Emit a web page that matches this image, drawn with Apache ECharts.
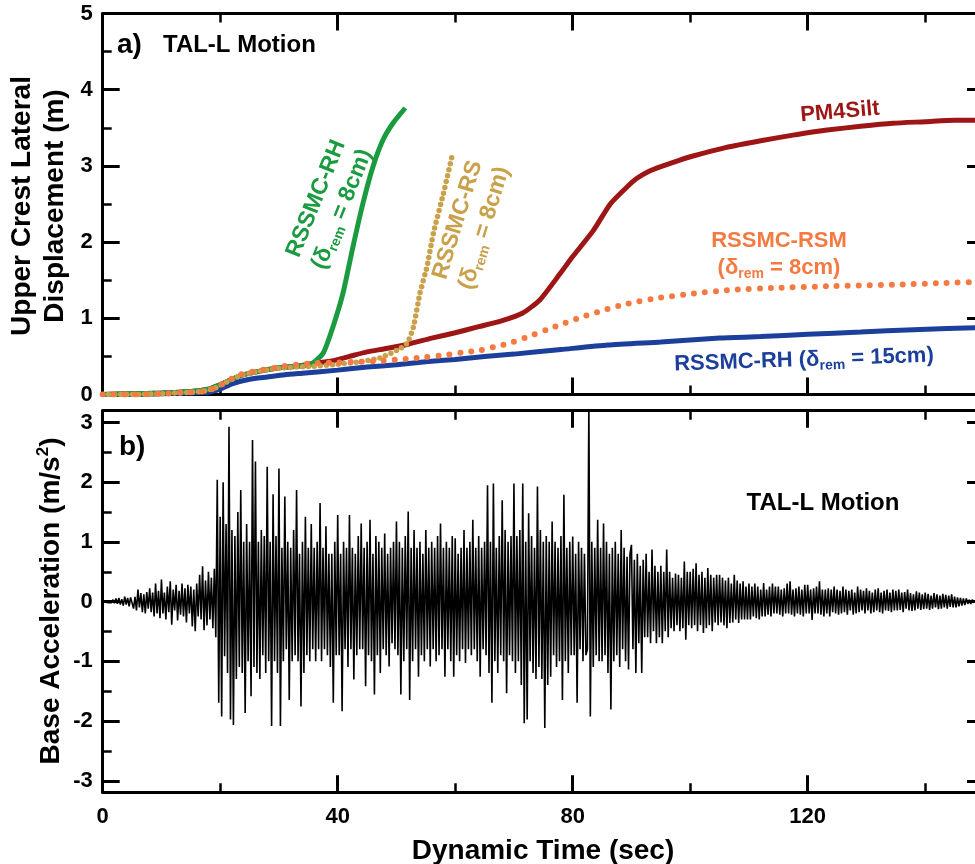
<!DOCTYPE html>
<html><head><meta charset="utf-8">
<script src="https://cdn.jsdelivr.net/npm/echarts@6/dist/echarts.min.js"></script>
<style>html,body{margin:0;padding:0;background:#fff}#c{width:975px;height:864px}</style>
</head><body><div id="c"></div>
<script>
const FONT = "'Liberation Sans', Arial, Helvetica, sans-serif";

// ---- Panel a) upper crest lateral displacement (m) vs dynamic time (s)
const tPM4Silt = [0,5,10,15,18,20,22,24,27,30,33,36,39,42,45,48,52,56,60,64,68,71.5,74.4,77.8,80,83.5,86.4,89.2,91,93,95,98,100.5,106,112,118,123.3,129,134.5,140,145,150];
const dPM4Silt = [0,0.01,0.02,0.04,0.07,0.13,0.2,0.26,0.31,0.35,0.37,0.41,0.44,0.5,0.56,0.6,0.66,0.74,0.81,0.89,0.97,1.07,1.24,1.58,1.81,2.15,2.5,2.72,2.84,2.93,2.99,3.07,3.13,3.24,3.33,3.41,3.47,3.52,3.56,3.58,3.6,3.6];

const tRH15 = [0,5,10,15,18,20,22,25,28,31,34,40,45,50,55,60,65,70,78,86,95,105,112,120,129,138,150];
const dRH15 = [0,0,0.01,0.02,0.03,0.07,0.14,0.2,0.23,0.26,0.28,0.32,0.36,0.39,0.43,0.46,0.5,0.53,0.59,0.65,0.69,0.74,0.76,0.79,0.82,0.85,0.88];

const tRH8 = [0,5,10,15,18,20,22,24,27,30,33,35.3,37.5,39.2,40.9,42.6,44.3,46,47.7,49.4,51.5];
const dRH8 = [0,0.01,0.02,0.04,0.07,0.13,0.2,0.26,0.31,0.35,0.37,0.39,0.54,0.89,1.33,1.94,2.51,2.99,3.34,3.56,3.76];

const tRS8 = [0,5,10,15,17,19,20,21.5,23.4,25,26.8,30.7,35.8,39.2,43.8,47.2,50.1,51.8,52.9,54,55.2,56.3,58,59.5];
const dRS8 = [0,0,0.01,0.03,0.04,0.08,0.12,0.18,0.25,0.28,0.31,0.35,0.37,0.39,0.43,0.48,0.58,0.67,0.89,1.33,1.68,2.12,2.64,3.14];

const tRSM8 = [0,5,10,15,17,19,20,21.5,23.4,25,26.8,28.5,30.7,33,35.8,40,44,47.2,52,55,58.6,61,64.2,67,69.9,72.5,75.6,78,81.3,85,89.2,94.9,100,106.3,115,123.3,134.5,142,150];
const dRSM8 = [0,0,0.01,0.03,0.04,0.08,0.12,0.19,0.26,0.29,0.32,0.34,0.37,0.39,0.41,0.42,0.43,0.44,0.47,0.49,0.52,0.55,0.58,0.63,0.69,0.76,0.85,0.92,1.01,1.1,1.19,1.27,1.32,1.37,1.4,1.42,1.44,1.46,1.48];

// ---- Panel b) base acceleration (m/s2), samples every accelDt seconds from t = 0
const accelDt = 0.25;
const accel = [
 0,0.01,-0.01,0.02,-0.02,0.01,-0.02,0.03,-0.03,0.05,-0.04,0.06,-0.05,0.04,-0.07,0.08,-0.05,0.06,-0.08,0.07,
 0.1,-0.12,0.08,-0.15,0.2,-0.1,0.14,-0.18,0.12,-0.2,0.16,-0.12,0.22,-0.18,0.15,-0.25,0.3,-0.2,0.18,-0.28,
 0.37,-0.2,0.15,-0.3,0.25,-0.18,0.34,-0.39,0.2,-0.15,0.28,-0.32,0.18,-0.22,0.3,-0.25,0.22,-0.35,0.28,-0.2,
 0.25,-0.42,0.2,-0.5,0.3,-0.25,0.45,-0.3,0.59,-0.48,0.35,-0.4,0.5,-0.3,0.4,-0.45,0.55,-0.6,2.04,-1.7,
 1.42,-1.93,2.0,-0.92,1.3,-1.2,2.93,-1.98,1.2,-2.07,1.1,-1.3,1.5,-1.1,1.87,-1.2,1.0,-1.87,1.3,-1.0,
 1.0,-1.59,2.71,-1.1,2.35,-1.2,1.0,-1.3,1.2,-0.9,1.1,-1.2,2.26,-1.0,1.0,-2.09,1.8,-1.0,1.1,-1.2,
 2.23,-2.09,0.9,-1.0,1.76,-0.8,1.0,-1.65,0.9,-1.0,1.2,-0.9,1.87,-1.0,0.8,-1.76,1.0,-1.2,1.42,-0.9,
 0.9,-1.0,1.3,-0.8,0.9,-1.0,1.0,-0.8,1.65,-1.0,0.9,-0.8,1.26,-0.9,0.8,-1.1,0.8,-1.7,1.0,-0.9,
 1.45,-0.9,0.8,-1.84,1.0,-0.8,0.9,-1.1,1.45,-0.8,0.9,-1.31,0.8,-0.9,1.1,-0.8,1.31,-0.8,0.9,-1.42,
 1.0,-0.9,1.37,-1.0,0.8,-1.56,1.1,-0.9,1.0,-1.2,0.9,-0.8,1.14,-0.9,0.8,-1.09,0.9,-0.7,1.0,-0.8,
 1.34,-0.9,1.0,-1.56,0.9,-1.0,1.1,-0.8,1.51,-1.65,0.9,-1.0,1.2,-0.8,0.9,-1.26,1.0,-0.9,0.8,-1.0,
 1.2,-0.8,0.9,-1.09,1.0,-0.8,0.9,-1.0,1.1,-0.9,1.31,-0.8,0.9,-1.26,1.0,-0.8,0.9,-1.0,1.1,-1.26,
 1.06,-0.9,0.8,-1.0,0.9,-0.8,1.2,-1.03,0.9,-0.8,1.0,-0.9,1.37,-0.8,0.9,-1.0,1.1,-1.26,0.9,-0.8,
 1.0,-0.9,1.95,-1.2,1.0,-1.7,1.98,-1.0,0.9,-1.2,1.1,-0.9,1.7,-1.0,1.2,-1.54,1.0,-0.9,1.1,-1.0,
 1.98,-1.2,1.1,-1.0,1.2,-1.4,1.98,-2.04,1.0,-1.98,1.48,-1.0,1.1,-1.2,0.9,-1.3,1.93,-1.1,1.2,-1.3,
 1.0,-2.12,1.1,-1.4,1.0,-1.26,1.34,-0.9,1.0,-1.1,0.9,-1.0,1.1,-1.65,1.79,-1.0,0.9,-1.2,1.0,-0.9,
 1.09,-0.9,0.8,-1.7,1.0,-0.8,0.9,-1.0,0.8,-0.9,-0.8,3.3,-1.93,1.0,-1.1,0.9,-0.9,1.37,-1.0,0.9,
 -1.0,1.31,-0.9,1.0,-1.2,0.8,-1.81,0.9,-1.0,1.0,-0.9,0.8,-1.1,1.2,-0.8,0.9,-1.0,0.75,-1.14,0.8,
 0.95,-0.8,0.7,-1.2,0.8,-0.7,0.6,-1.2,0.7,-0.6,0.8,-0.6,0.5,-0.7,0.87,-0.5,0.6,-0.7,0.5,-0.6,
 0.6,-0.7,0.5,-0.5,0.87,-0.6,0.5,-0.45,0.4,-0.5,0.47,-0.4,0.45,-0.5,0.4,-0.45,0.67,-0.64,0.5,-0.4,
 0.5,-0.45,0.55,-0.4,0.64,-0.5,0.45,-0.4,0.5,-0.53,0.4,-0.45,0.56,-0.4,0.45,-0.5,0.4,-0.35,0.45,-0.4,
 0.45,-0.35,0.4,-0.4,0.35,-0.45,0.4,-0.36,0.3,-0.35,0.45,-0.3,0.35,-0.36,0.3,-0.3,0.34,-0.3,0.25,-0.3,
 0.3,-0.3,0.25,-0.25,0.3,-0.28,0.25,-0.3,0.2,-0.25,0.31,-0.25,0.2,-0.22,0.25,-0.25,0.3,-0.2,0.25,-0.2,
 0.25,-0.22,0.2,-0.25,0.22,-0.2,0.3,-0.2,0.34,-0.22,0.2,-0.25,0.22,-0.2,0.25,-0.22,0.2,-0.25,0.28,-0.2,
 0.28,-0.2,0.2,-0.31,0.22,-0.2,0.25,-0.2,0.34,-0.22,0.2,-0.25,0.2,-0.2,0.22,-0.25,0.2,-0.18,0.25,-0.2,
 0.2,-0.22,0.18,-0.2,0.25,-0.18,0.2,-0.22,0.18,-0.15,0.2,-0.22,0.15,-0.2,0.25,-0.18,0.2,-0.15,0.18,-0.2,
 0.22,-0.15,0.18,-0.2,0.15,-0.18,0.2,-0.15,0.22,-0.18,0.15,-0.2,0.18,-0.15,0.2,-0.16,0.15,-0.18,0.2,-0.15,
 0.18,-0.15,0.2,-0.14,0.15,-0.18,0.16,-0.12,0.2,-0.15,0.14,-0.16,0.12,-0.15,0.17,-0.12,0.15,-0.14,0.12,-0.13,
 0.15,-0.12,0.13,-0.14,0.1,-0.12,0.14,-0.1,0.12,-0.13,0.1,-0.12,0.13,-0.1,0.11,-0.12,0.1,-0.09,0.12,-0.1,
 0.08,-0.1,0.07,-0.08,0.06,-0.07,0.05,-0.06,0.05,-0.04,0.03,-0.04,0.03,-0.02,0.02,-0.02,0.01,-0.01,0.01,0,
 0
];

const C_RED = '#9e1515', C_BLUE = '#1b3f9a', C_GREEN = '#1a9b40', C_GOLD = '#c9a14b', C_ORANGE = '#f57a42';

function pairs(t, d) { return t.map((v, i) => [v, d[i]]); }
const accelPairs = accel.map((v, i) => [i * accelDt, v]);

const axLine = { show: true, onZero: false, lineStyle: { color: '#000', width: 3 } };
const noLine = { show: false };
const tickMaj = { show: true, inside: true, length: 17, lineStyle: { color: '#000', width: 3 } };
const tickMin = { show: true, splitNumber: 2, length: 9, lineStyle: { color: '#000', width: 2.5 } };
const noLabel = { show: false };
const lab = (m) => ({ show: true, color: '#000', fontFamily: FONT, fontWeight: 'bold', fontSize: 22, margin: m });

function xAx(grid, pos, labels) {
  return { type: 'value', gridIndex: grid, position: pos, min: 0, max: 160, interval: 40,
    axisLine: axLine, axisTick: tickMaj, minorTick: tickMin, splitLine: { show: false },
    axisLabel: labels ? Object.assign(lab(14), { showMaxLabel: false }) : noLabel };
}

const richA = (color, fs) => ({
  a: { fontFamily: FONT, fontWeight: 'bold', fontSize: fs, fill: color, lineHeight: fs + 5 },
  s: { fontFamily: FONT, fontWeight: 'bold', fontSize: Math.round(fs * 0.62), fill: color, lineHeight: Math.round(fs * 0.62), verticalAlign: 'bottom' },
  p: { fontFamily: FONT, fontWeight: 'bold', fontSize: Math.round(fs * 0.62), fill: color, lineHeight: Math.round(fs * 0.62), verticalAlign: 'top' }
});
function txt(x, y, text, color, fs, rotDeg, align) {
  return { type: 'text', x: x, y: y, rotation: (rotDeg || 0) * Math.PI / 180, z: 100,
    style: { text: text, rich: richA(color, fs), align: align || 'center', verticalAlign: 'middle',
      fontFamily: FONT, fontWeight: 'bold', fontSize: fs, fill: color } };
}

const gridBase = { outerBoundsMode: 'none', containLabel: false, left: 102.7, width: 940 };
const option = {
  animation: false,
  backgroundColor: '#fff',
  grid: [
    Object.assign({ top: 13.5, height: 381 }, gridBase),
    Object.assign({ top: 410.7, height: 381.6 }, gridBase),
    Object.assign({ top: 422.6, height: 358.2 }, gridBase)
  ],
  xAxis: [
    xAx(0, 'bottom', false),
    xAx(0, 'top', false),
    xAx(1, 'bottom', true),
    xAx(1, 'top', false),
    { type: 'value', gridIndex: 2, min: 0, max: 160, show: false }
  ],
  yAxis: [
    { type: 'value', gridIndex: 0, position: 'left', min: 0, max: 5, interval: 1,
      axisLine: axLine, axisTick: tickMaj, minorTick: tickMin, splitLine: { show: false }, axisLabel: lab(10) },
    { type: 'value', gridIndex: 0, position: 'right', offset: -58.7, min: 0, max: 5, interval: 1,
      axisLine: axLine, axisTick: tickMaj, minorTick: tickMin, splitLine: { show: false }, axisLabel: noLabel },
    { type: 'value', gridIndex: 1, position: 'left', min: -3.2, max: 3.2,
      axisLine: axLine, axisTick: { show: false }, splitLine: { show: false }, axisLabel: noLabel },
    { type: 'value', gridIndex: 1, position: 'right', offset: -58.7, min: -3.2, max: 3.2,
      axisLine: axLine, axisTick: { show: false }, splitLine: { show: false }, axisLabel: noLabel },
    { type: 'value', gridIndex: 2, position: 'left', min: -3, max: 3, interval: 1,
      axisLine: noLine, axisTick: tickMaj, minorTick: tickMin, splitLine: { show: false }, axisLabel: lab(10) },
    { type: 'value', gridIndex: 2, position: 'right', offset: -58.7, min: -3, max: 3, interval: 1,
      axisLine: noLine, axisTick: tickMaj, minorTick: tickMin, splitLine: { show: false }, axisLabel: noLabel }
  ],
  series: [
    { name: 'PM4Silt', type: 'line', xAxisIndex: 0, yAxisIndex: 0, data: pairs(tPM4Silt, dPM4Silt),
      showSymbol: false, smooth: 0.2, lineStyle: { color: C_RED, width: 5 } },
    { name: 'RSSMC-RH 15cm', type: 'line', xAxisIndex: 0, yAxisIndex: 0, data: pairs(tRH15, dRH15),
      showSymbol: false, smooth: 0.2, lineStyle: { color: C_BLUE, width: 5 } },
    { name: 'RSSMC-RH 8cm', type: 'line', xAxisIndex: 0, yAxisIndex: 0, data: pairs(tRH8, dRH8),
      showSymbol: false, smooth: 0.2, lineStyle: { color: C_GREEN, width: 5 } },
    { name: 'RSSMC-RS 8cm', type: 'line', xAxisIndex: 0, yAxisIndex: 0, data: pairs(tRS8, dRS8),
      showSymbol: false, smooth: 0.2,
      lineStyle: { color: C_GOLD, width: 5.5, type: [0, 6], cap: 'round' } },
    { name: 'RSSMC-RSM 8cm', type: 'line', xAxisIndex: 0, yAxisIndex: 0, data: pairs(tRSM8, dRSM8),
      showSymbol: false, smooth: 0.2,
      lineStyle: { color: C_ORANGE, width: 6, type: [0, 11], cap: 'round' } },
    { name: 'Base acceleration', type: 'line', xAxisIndex: 2, yAxisIndex: 2, data: accelPairs,
      showSymbol: false, sampling: null, lineStyle: { color: '#000', width: 1.6 } }
  ],
  graphic: [
    txt(38.5, 206, '{a|Upper Crest Lateral}\n{a|Displacement (m)}', '#000', 28, 90),
    txt(51, 601, '{a|Base Acceleration (m/s}{p|2}{a|)}', '#000', 28, 90),
    txt(543, 851, 'Dynamic Time (sec)', '#000', 28, 0),
    txt(117, 45, 'a)', '#000', 28, 0, 'left'),
    txt(163, 45, 'TAL-L Motion', '#000', 24, 0, 'left'),
    txt(119, 447, 'b)', '#000', 28, 0, 'left'),
    txt(823, 503, 'TAL-L Motion', '#000', 24, 0),
    txt(329, 204, '{a|RSSMC-RH}\n{a|(δ}{s|rem}{a| = 8cm)}', C_GREEN, 23, 68),
    txt(471, 224, '{a|RSSMC-RS}\n{a|(δ}{s|rem}{a| = 8cm)}', C_GOLD, 23, 73),
    txt(840, 112, 'PM4Silt', C_RED, 22, 5),
    txt(779, 254, '{a|RSSMC-RSM}\n{a|(δ}{s|rem}{a| = 8cm)}', C_ORANGE, 22, 0),
    txt(804, 360, '{a|RSSMC-RH (δ}{s|rem}{a| = 15cm)}', C_BLUE, 22, 2)
  ]
};

const chart = echarts.init(document.getElementById('c'), null, { renderer: 'canvas' });
chart.setOption(option);
</script>
</body></html>
